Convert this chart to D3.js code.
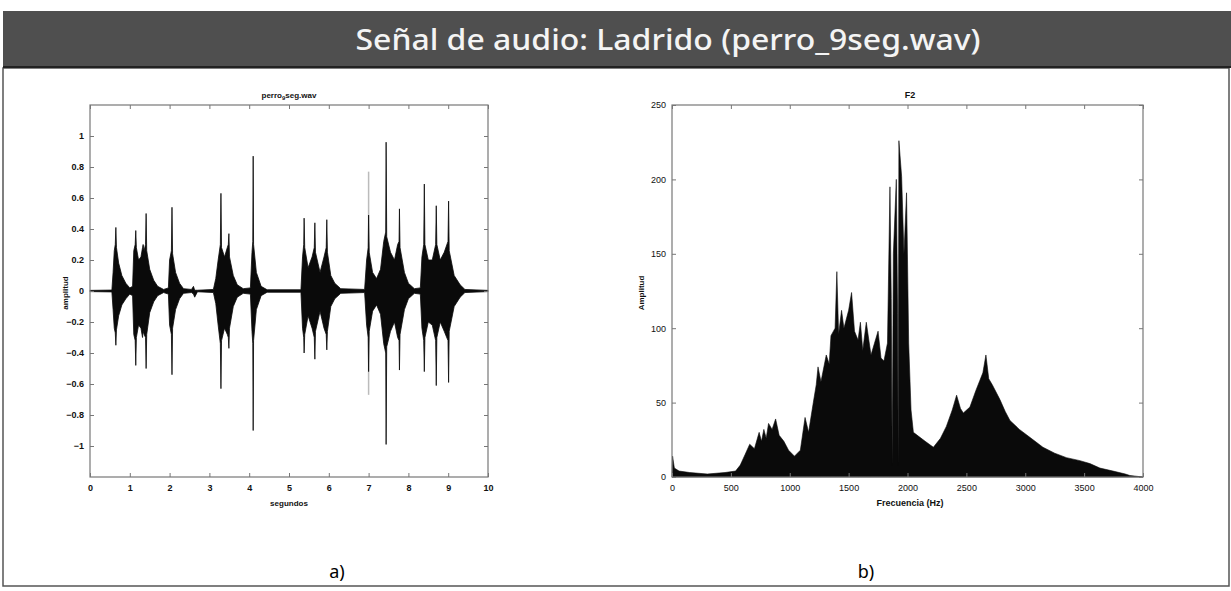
<!DOCTYPE html>
<html>
<head>
<meta charset="utf-8">
<script src="https://d3js.org/d3.v7.min.js"></script>
<style>
  body { margin: 0; background: #fff; }
  svg text { font-family: "Liberation Sans", Arial, sans-serif; }
  .mat text { font-size: 9px; fill: #111; }
</style>
</head>
<body>
<div id="chart"></div>
<script>
// panel a) waveform envelope: [segundos, upper, lower]
var wave = [
  [0, 0.004, -0.004], [0.55, 0.006, -0.006], [0.58, 0.12, -0.12], [0.61, 0.26, -0.24],
  [0.635, 0.3, -0.27], [0.65, 0.41, -0.35], [0.665, 0.28, -0.25], [0.72, 0.18, -0.16],
  [0.8, 0.1, -0.09], [0.9, 0.05, -0.05], [1.0, 0.02, -0.02], [1.07, 0.03, -0.03],
  [1.1, 0.26, -0.28], [1.135, 0.3, -0.32], [1.15, 0.39, -0.48], [1.165, 0.28, -0.3],
  [1.22, 0.2, -0.22], [1.28, 0.22, -0.24], [1.32, 0.28, -0.3], [1.335, 0.3, -0.26],
  [1.36, 0.26, -0.28], [1.395, 0.3, -0.3], [1.41, 0.5, -0.5], [1.425, 0.26, -0.28],
  [1.5, 0.14, -0.14], [1.6, 0.07, -0.07], [1.7, 0.03, -0.03], [1.85, 0.01, -0.01],
  [1.97, 0.02, -0.02], [2.0, 0.2, -0.22], [2.045, 0.26, -0.28], [2.06, 0.54, -0.54],
  [2.075, 0.24, -0.24], [2.15, 0.12, -0.12], [2.25, 0.05, -0.05], [2.35, 0.015, -0.015],
  [2.55, 0.01, -0.01], [2.6, 0.03, -0.02], [2.63, 0.005, -0.04], [2.7, 0.005, -0.005],
  [3.1, 0.01, -0.01], [3.16, 0.08, -0.08], [3.22, 0.2, -0.22], [3.275, 0.3, -0.34],
  [3.29, 0.63, -0.63], [3.305, 0.28, -0.32], [3.38, 0.22, -0.24], [3.45, 0.28, -0.28],
  [3.475, 0.3, -0.3], [3.49, 0.37, -0.37], [3.505, 0.22, -0.24], [3.6, 0.1, -0.1],
  [3.7, 0.04, -0.04], [3.85, 0.015, -0.015], [4.03, 0.02, -0.02], [4.07, 0.25, -0.26],
  [4.09, 0.32, -0.34], [4.1, 0.87, -0.9], [4.11, 0.3, -0.32], [4.18, 0.12, -0.12],
  [4.3, 0.03, -0.03], [4.45, 0.008, -0.008], [5.3, 0.008, -0.008], [5.34, 0.22, -0.24],
  [5.37, 0.3, -0.3], [5.38, 0.47, -0.4], [5.395, 0.28, -0.28], [5.48, 0.15, -0.16],
  [5.58, 0.22, -0.24], [5.635, 0.28, -0.3], [5.65, 0.44, -0.44], [5.665, 0.25, -0.26],
  [5.78, 0.12, -0.13], [5.88, 0.22, -0.24], [5.935, 0.28, -0.28], [5.95, 0.46, -0.38],
  [5.965, 0.25, -0.26], [6.05, 0.1, -0.1], [6.15, 0.05, -0.05], [6.3, 0.015, -0.015],
  [6.9, 0.01, -0.01], [6.95, 0.2, -0.22], [6.99, 0.28, -0.3], [7.0, 0.49, -0.52],
  [7.015, 0.25, -0.26], [7.1, 0.12, -0.13], [7.2, 0.08, -0.09], [7.3, 0.14, -0.15],
  [7.38, 0.32, -0.34], [7.43, 0.38, -0.4], [7.44, 0.96, -0.99], [7.455, 0.35, -0.36],
  [7.55, 0.25, -0.26], [7.65, 0.2, -0.2], [7.73, 0.3, -0.3], [7.765, 0.32, -0.32],
  [7.775, 0.53, -0.51], [7.79, 0.28, -0.28], [7.9, 0.12, -0.12], [8.0, 0.05, -0.05],
  [8.15, 0.015, -0.015], [8.3, 0.02, -0.02], [8.34, 0.22, -0.24], [8.385, 0.3, -0.32],
  [8.4, 0.69, -0.52], [8.415, 0.3, -0.3], [8.5, 0.2, -0.2], [8.6, 0.2, -0.22],
  [8.685, 0.3, -0.32], [8.7, 0.55, -0.61], [8.715, 0.3, -0.3], [8.8, 0.2, -0.2],
  [8.9, 0.25, -0.26], [8.995, 0.32, -0.32], [9.01, 0.58, -0.59], [9.025, 0.26, -0.26],
  [9.15, 0.1, -0.1], [9.3, 0.04, -0.04], [9.42, 0.01, -0.01], [10, 0.004, -0.004]
];
// faint grey spike at ~7 s: [segundos, upper, lower]
var faint = [[7.0, 0.77, -0.67]];
var waveYTicks = [1, 0.8, 0.6, 0.4, 0.2, 0, -0.2, -0.4, -0.6, -0.8, -1];
var waveXTicks = [0, 1, 2, 3, 4, 5, 6, 7, 8, 9, 10];

// panel b) spectrum envelope: [Hz, Amplitud]
var spectrum = [
  [0, 0], [5, 14], [20, 6], [60, 4], [150, 3], [300, 2], [450, 3], [540, 4],
  [580, 8], [620, 15], [660, 22], [700, 19], [740, 30], [760, 24], [780, 32],
  [800, 26], [820, 36], [850, 32], [880, 39], [910, 28], [950, 24], [990, 18],
  [1040, 14], [1090, 18], [1130, 40], [1160, 30], [1200, 50], [1225, 62],
  [1240, 74], [1265, 64], [1280, 70], [1310, 82], [1335, 76], [1350, 95],
  [1385, 100], [1400, 138], [1415, 96], [1440, 112], [1460, 100], [1500, 112],
  [1525, 124], [1550, 98], [1580, 92], [1600, 104], [1620, 85], [1650, 104],
  [1690, 82], [1720, 90], [1750, 98], [1775, 80], [1800, 78], [1830, 90],
  [1851, 195], [1862, 120], [1870, 8], [1880, 150], [1905, 200], [1916, 110],
  [1921, 8], [1927, 226], [1950, 202], [1970, 150], [1992, 191], [2010, 90],
  [2030, 45], [2050, 30], [2100, 27], [2150, 24], [2220, 20], [2280, 26],
  [2330, 34], [2380, 45], [2417, 55], [2450, 46], [2474, 43], [2530, 47],
  [2580, 58], [2615, 65], [2640, 70], [2666, 82], [2690, 66], [2720, 62],
  [2785, 52], [2830, 44], [2870, 38], [2950, 32], [3050, 26], [3150, 20],
  [3250, 16], [3350, 13], [3464, 11], [3549, 9], [3634, 6], [3745, 4],
  [3850, 2], [3889, 1], [4000, 0]
];
var specYTicks = [0, 50, 100, 150, 200, 250];
var specXTicks = [0, 500, 1000, 1500, 2000, 2500, 3000, 3500, 4000];

var W = 1231, H = 591;
var svg = d3.select("#chart").append("svg").attr("width", W).attr("height", H);

// page frame and title bar
svg.append("rect").attr("x", 3).attr("y", 68).attr("width", 1226).attr("height", 518)
  .attr("fill", "none").attr("stroke", "#555").attr("stroke-width", 1.5);
svg.append("rect").attr("x", 3).attr("y", 11).attr("width", 1228).attr("height", 57)
  .attr("fill", "#4f4f4f");
svg.append("line").attr("x1", 3).attr("x2", 1231).attr("y1", 67).attr("y2", 67)
  .attr("stroke", "#222").attr("stroke-width", 2);
svg.append("text").attr("x", 668).attr("y", 50).attr("text-anchor", "middle")
  .attr("textLength", 625).attr("lengthAdjust", "spacingAndGlyphs")
  .style("font-family", "'Noto Sans', sans-serif").style("font-size", "29px")
  .style("font-weight", "500").style("fill", "#f4f4f4")
  .text("Señal de audio: Ladrido (perro_9seg.wav)");

// MATLAB style box with ticks inside on all four sides
function matBox(g, x, y, xTicks, yTicks, fmtX, fmtY) {
  var x0 = x.range()[0], x1 = x.range()[1], y0 = y.range()[0], y1 = y.range()[1];
  g.append("rect").attr("x", x0).attr("y", y1).attr("width", x1 - x0).attr("height", y0 - y1)
    .attr("fill", "none").attr("stroke", "#777").attr("stroke-width", 1.2);
  g.append("g").attr("transform", "translate(0," + y0 + ")")
    .call(d3.axisBottom(x).tickValues(xTicks).tickSize(-4).tickPadding(8).tickFormat(fmtX))
    .call(function(a) { a.select(".domain").remove(); a.selectAll("line").attr("stroke", "#777"); });
  g.append("g").attr("transform", "translate(0," + y1 + ")")
    .call(d3.axisTop(x).tickValues(xTicks).tickSize(-4).tickFormat(""))
    .call(function(a) { a.select(".domain").remove(); a.selectAll("line").attr("stroke", "#777"); });
  g.append("g").attr("transform", "translate(" + x0 + ",0)")
    .call(d3.axisLeft(y).tickValues(yTicks).tickSize(-4).tickPadding(6).tickFormat(fmtY))
    .call(function(a) { a.select(".domain").remove(); a.selectAll("line").attr("stroke", "#777"); });
  g.append("g").attr("transform", "translate(" + x1 + ",0)")
    .call(d3.axisRight(y).tickValues(yTicks).tickSize(-4).tickFormat(""))
    .call(function(a) { a.select(".domain").remove(); a.selectAll("line").attr("stroke", "#777"); });
  g.selectAll(".tick text").style("font-size", "9px").style("font-family", "'Liberation Sans', Arial, sans-serif")
    .style("font-weight", "bold").attr("fill", "#222");
}

// ---- panel a)
var ga = svg.append("g").attr("class", "mat");
var xa = d3.scaleLinear().domain([0, 10]).range([90, 488]);
var ya = d3.scaleLinear().domain([-1.2, 1.2]).range([477, 105]);

ga.append("line").attr("x1", xa(0)).attr("x2", xa(10)).attr("y1", ya(0)).attr("y2", ya(0))
  .attr("stroke", "#888").attr("stroke-width", 1);
ga.selectAll("line.faint").data(faint).enter().append("line").attr("class", "faint")
  .attr("x1", function(d) { return xa(d[0]); }).attr("x2", function(d) { return xa(d[0]); })
  .attr("y1", function(d) { return ya(d[1]); }).attr("y2", function(d) { return ya(d[2]); })
  .attr("stroke", "#bbb").attr("stroke-width", 1.5);
ga.append("path").datum(wave)
  .attr("d", d3.area().x(function(d) { return xa(d[0]); })
    .y0(function(d) { return ya(d[2]); }).y1(function(d) { return ya(d[1]); }))
  .attr("fill", "#0a0a0a").attr("stroke", "#0a0a0a").attr("stroke-width", 0.8);
matBox(ga, xa, ya, waveXTicks, waveYTicks, d3.format("d"), function(d) { return d === 0 ? "0" : d3.format("")(d); });

var ta = ga.append("text").attr("x", 289).attr("y", 98).attr("text-anchor", "middle")
  .style("font-size", "8px").style("font-weight", "bold");
ta.append("tspan").text("perro");
ta.append("tspan").attr("dy", 2).style("font-size", "6px").text("9");
ta.append("tspan").attr("dy", -2).text("seg.wav");
ga.append("text").attr("x", 289).attr("y", 506).attr("text-anchor", "middle")
  .style("font-size", "8px").style("font-weight", "bold").text("segundos");
ga.append("text").attr("transform", "translate(68,293) rotate(-90)").attr("text-anchor", "middle")
  .style("font-size", "8px").style("font-weight", "bold").text("amplitud");

// ---- panel b)
var gb = svg.append("g").attr("class", "mat");
var xb = d3.scaleLinear().domain([0, 4000]).range([672, 1143]);
var yb = d3.scaleLinear().domain([0, 250]).range([477, 105]);
gb.append("path").datum(spectrum)
  .attr("d", d3.area().x(function(d) { return xb(d[0]); }).y0(yb(0)).y1(function(d) { return yb(d[1]); }))
  .attr("fill", "#0a0a0a").attr("stroke", "#0a0a0a").attr("stroke-width", 0.6);
matBox(gb, xb, yb, specXTicks, specYTicks, d3.format("d"), d3.format("d"));
gb.selectAll(".tick text").attr("fill", "#444").style("font-weight", "normal");

gb.append("text").attr("x", 910).attr("y", 98).attr("text-anchor", "middle")
  .style("font-size", "9px").style("font-weight", "bold").text("F2");
gb.append("text").attr("x", 910).attr("y", 506).attr("text-anchor", "middle")
  .style("font-size", "9px").style("font-weight", "bold").text("Frecuencia (Hz)");
gb.append("text").attr("transform", "translate(644,293) rotate(-90)").attr("text-anchor", "middle")
  .style("font-size", "8px").style("font-weight", "bold").text("Amplitud");

// captions
svg.append("text").attr("x", 337).attr("y", 578).attr("text-anchor", "middle")
  .style("font-family", "'Noto Sans', sans-serif").style("font-size", "18px").text("a)");
svg.append("text").attr("x", 866).attr("y", 578).attr("text-anchor", "middle")
  .style("font-family", "'Noto Sans', sans-serif").style("font-size", "18px").text("b)");
</script>
</body>
</html>
